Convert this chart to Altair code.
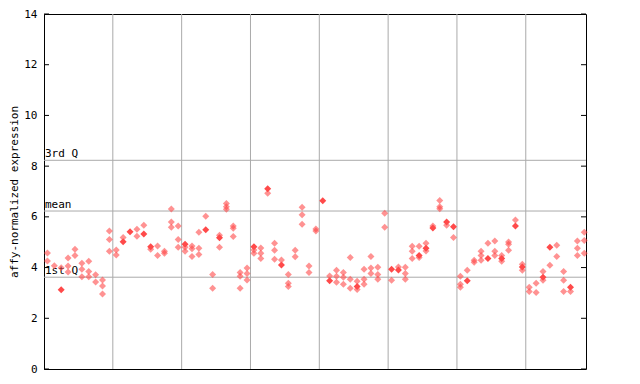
import altair as alt
import pandas as pd

# values per sample column
sample_values = [
    [4.57, 4.26], [4.07], [3.13, 3.99], [4.38, 4.06, 3.83], [4.72, 4.48],
    [4.17, 3.93, 3.64], [4.25, 3.85, 3.64], [3.72, 3.43], [3.51, 3.27, 2.96], [5.44, 5.11, 4.64],
    [4.69, 4.50], [5.19, 5.02], [5.41], [5.51, 5.24], [5.67, 5.32],
    [4.82, 4.72], [4.85, 4.48], [4.64, 4.56], [6.31, 5.80, 5.59], [5.64, 5.11, 4.80],
    [4.92, 4.80, 4.64], [4.85, 4.74, 4.44], [5.39, 4.76, 4.52], [6.02, 5.49], [3.73, 3.18],
    [5.27, 5.18, 4.80], [6.53, 6.40, 6.30], [5.64, 5.55, 5.23], [3.81, 3.66, 3.18], [3.98, 3.77, 3.51],
    [4.82, 4.69, 4.56], [4.77, 4.56, 4.36], [7.11, 6.93], [4.96, 4.68, 4.33], [4.30, 4.10],
    [3.73, 3.38, 3.25], [4.68, 4.43], [6.38, 6.08, 5.71], [4.06, 3.81], [5.52, 5.44],
    [6.64], [3.67, 3.48], [3.89, 3.66, 3.42], [3.81, 3.62, 3.34], [4.40, 3.54, 3.18],
    [3.46, 3.25, 3.14], [3.93, 3.54, 3.34], [4.44, 3.98, 3.77], [4.01, 3.73, 3.54], [6.14, 5.59],
    [3.93, 3.50], [4.02, 3.90], [4.01, 3.77, 3.54], [4.84, 4.64, 4.36], [4.84, 4.48, 4.40],
    [4.96, 4.76, 4.65], [5.64, 5.56], [6.65, 6.40, 6.32], [5.80, 5.67], [5.61, 5.19],
    [3.66, 3.34, 3.22], [3.89, 3.48], [4.29, 4.21], [4.64, 4.48, 4.29], [4.96, 4.36],
    [5.05, 4.64, 4.48], [4.48, 4.36, 4.25], [5.01, 4.92, 4.68], [5.88, 5.64], [4.13, 4.02, 3.89],
    [3.22, 3.06], [3.38, 3.02], [3.85, 3.62, 3.50], [4.80, 4.09], [4.88, 4.44],
    [3.85, 3.50, 3.06], [3.22, 3.06], [5.05, 4.76, 4.48], [5.39, 5.07, 4.56],
]
# index (within each column) of the solid point, -1 if none
filled_index = [
    -1, -1, 0, -1, -1, -1, -1, -1, -1, -1,
    -1, 1, 0, -1, 1, 0, -1, -1, -1, -1,
    0, -1, -1, 1, -1, 1, -1, -1, -1, -1,
    0, -1, 0, -1, 1, -1, -1, -1, -1, -1,
    0, 1, -1, -1, -1, 1, -1, -1, -1, -1,
    0, 1, -1, -1, 1, 1, 1, -1, 0, 0,
    -1, 1, -1, -1, 1, -1, 1, -1, 1, 1,
    -1, -1, 1, 0, -1, -1, 0, -1, -1,
]

group_bounds = [10.5, 20.5, 30.5, 40.5, 50.5, 60.5, 70.5]
q_labels = ["3rd Q", "mean", "1st Q"]
q_values = [8.23, 6.23, 3.62]
y_ticks = [0, 2, 4, 6, 8, 10, 12, 14]

rows = []
for i, vals in enumerate(sample_values):
    for j, v in enumerate(vals):
        rows.append({"sample": i + 1, "value": v, "solid": j == filled_index[i]})
pts = pd.DataFrame(rows)

W, H = 542, 355
RED = "#ff4a4a"
FONT = "DejaVu Sans Mono"
xs = alt.Scale(domain=[0.5, 79.25], nice=False, zero=False)
ys = alt.Scale(domain=[0, 14], nice=False)

grid = alt.Chart(pd.DataFrame({"b": group_bounds})).mark_rule(color="#aaaaaa", strokeWidth=1).encode(
    x=alt.X("b:Q", scale=xs, axis=None)
)
qdf = pd.DataFrame({"label": q_labels, "v": q_values})
qlines = alt.Chart(qdf).mark_rule(color="#aaaaaa", strokeWidth=1).encode(
    y=alt.Y("v:Q", scale=ys), x=alt.value(0), x2=alt.value(W)
)
qtext = alt.Chart(qdf).mark_text(
    align="left", baseline="bottom", dx=1, dy=-1, font=FONT, fontSize=11, color="black"
).encode(y=alt.Y("v:Q", scale=ys), x=alt.value(0), text="label:N")

tdf = pd.DataFrame({"t": y_ticks})
lticks = alt.Chart(tdf).mark_rule(color="black").encode(
    y=alt.Y("t:Q", scale=ys), x=alt.value(0), x2=alt.value(5)
)
rticks = alt.Chart(tdf).mark_rule(color="black").encode(
    y=alt.Y("t:Q", scale=ys), x=alt.value(W - 5), x2=alt.value(W)
)

hatched = alt.Chart(pts[~pts["solid"]]).mark_point(
    shape="diamond", filled=True, size=49, color=RED, opacity=0.6
).encode(
    x=alt.X("sample:Q", scale=xs, axis=None),
    y=alt.Y("value:Q", scale=ys,
            axis=alt.Axis(title="affy-normalized expression", values=y_ticks, tickSize=0,
                          grid=False, labelPadding=7, titlePadding=4,
                          labelFont=FONT, labelFontSize=11, labelColor="black",
                          titleFont=FONT, titleFontSize=11, titleFontWeight="normal",
                          titleColor="black", domainColor="black")),
)
solid = alt.Chart(pts[pts["solid"]]).mark_point(
    shape="diamond", filled=True, size=49, color=RED, opacity=1
).encode(
    x=alt.X("sample:Q", scale=xs, axis=None),
    y=alt.Y("value:Q", scale=ys),
)

chart = alt.layer(grid, qlines, qtext, lticks, rticks, hatched, solid).properties(
    width=W, height=H,
    padding={"left": 36, "top": 6, "right": 10, "bottom": 10},
    autosize=alt.AutoSizeParams(type="none"),
).configure_view(stroke="black", strokeWidth=1).configure_axis(labelFlush=False)

chart.save("out.html", embed_options={"renderer": "svg", "actions": False})
